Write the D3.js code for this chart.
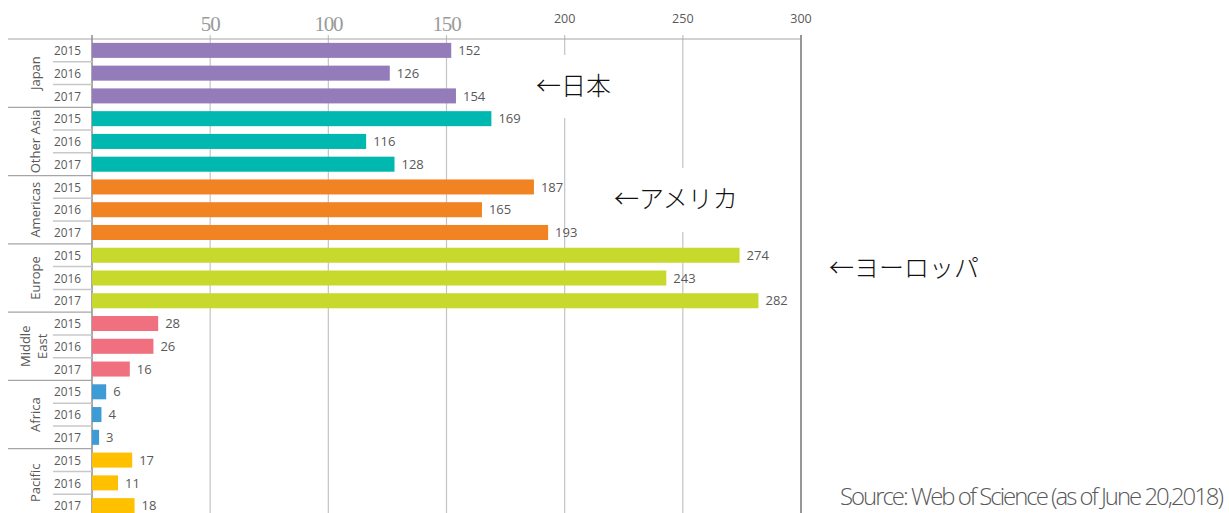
<!DOCTYPE html>
<html>
<head>
<meta charset="utf-8">
<script src="https://cdn.jsdelivr.net/npm/d3@7"></script>
<style>
  body { margin: 0; background: #fff; }
  svg { display: block; }
  .num { font-family: "Liberation Sans Narrow", "Open Sans", sans-serif; font-size: 13px; fill: #595959; }
  .grp { font-family: "Open Sans", sans-serif; font-size: 13px; fill: #595959; }
  .note { font-family: "Noto Sans CJK JP", sans-serif; font-size: 25px; font-weight: 300; fill: #111; }
</style>
</head>
<body>
<svg id="chart" width="1229" height="513"></svg>
<script>
var regions = ['Japan', 'Other Asia', 'Americas', 'Europe', 'Middle East', 'Africa', 'Pacific'];
var years = ['2015', '2016', '2017'];
var japan = [152, 126, 154];
var otherAsia = [169, 116, 128];
var americas = [187, 165, 193];
var europe = [274, 243, 282];
var middleEast = [28, 26, 16];
var africa = [6, 4, 3];
var pacific = [17, 11, 18];
var colors = ['#937cb9', '#00b8b0', '#f28322', '#c8d92e', '#f07080', '#3d9bd6', '#ffc000'];
var tickValues = [50, 100, 150, 200, 250, 300];

var seriesValues = [japan, otherAsia, americas, europe, middleEast, africa, pacific];

var rows = [];
regions.forEach(function (r, i) {
  years.forEach(function (yr, j) {
    rows.push({ region: r, ri: i, year: yr, key: r + '-' + yr, value: seriesValues[i][j] });
  });
});

var svg = d3.select('#chart');
var plotTop = 39, plotBottom = 517, plotLeft = 92, plotRight = 801;

var x = d3.scaleLinear().domain([0, 300]).range([plotLeft, plotRight]);
var y = d3.scaleBand().domain(rows.map(function (d) { return d.key; }))
  .range([plotTop, plotBottom]).paddingInner(0.34).paddingOuter(0.17);
var step = y.step();

// gridlines (behind bars)
svg.append('g').selectAll('line')
  .data(tickValues.filter(function (v) { return v < 300; }))
  .enter().append('line')
  .attr('x1', x).attr('x2', x)
  .attr('y1', plotTop - 4).attr('y2', plotBottom)
  .attr('stroke', '#c4c4c4').attr('stroke-width', 1.2);

// white boxes behind the notes
svg.append('rect').attr('x', 528).attr('y', 55).attr('width', 96).attr('height', 63).attr('fill', '#fff');
svg.append('rect').attr('x', 600).attr('y', 168).attr('width', 160).attr('height', 64).attr('fill', '#fff');

// top axis line and frame
svg.append('line').attr('x1', 8).attr('x2', plotRight).attr('y1', plotTop).attr('y2', plotTop)
  .attr('stroke', '#a6a6a6').attr('stroke-width', 1.2);
svg.append('line').attr('x1', plotLeft).attr('x2', plotLeft).attr('y1', plotTop - 4).attr('y2', plotBottom)
  .attr('stroke', '#8c8c8c').attr('stroke-width', 1.5);
svg.append('line').attr('x1', plotRight).attr('x2', plotRight).attr('y1', plotTop - 4).attr('y2', plotBottom)
  .attr('stroke', '#8c8c8c').attr('stroke-width', 1.8);

// tick labels: first three in serif, the rest in sans
var tl = svg.append('g').selectAll('text').data(tickValues).enter().append('text')
  .attr('x', x)
  .attr('text-anchor', 'middle')
  .text(function (d) { return d; });
tl.filter(function (d) { return d <= 150; })
  .attr('y', 31)
  .style('font-family', '"Liberation Serif", serif')
  .style('font-size', '21px')
  .style('letter-spacing', '-1.2px')
  .style('fill', '#9a9a9a');
tl.filter(function (d) { return d > 150; })
  .attr('y', 23)
  .style('font-family', '"Liberation Sans Narrow", "Open Sans", sans-serif')
  .style('font-size', '12.5px')
  .style('fill', '#595959');

// bars
svg.append('g').selectAll('rect').data(rows).enter().append('rect')
  .attr('x', x(0))
  .attr('y', function (d) { return y(d.key); })
  .attr('width', function (d) { return x(d.value) - x(0); })
  .attr('height', y.bandwidth())
  .attr('fill', function (d) { return colors[d.ri]; });

// value labels
svg.append('g').selectAll('text').data(rows).enter().append('text')
  .attr('class', 'num')
  .attr('x', function (d) { return x(d.value) + 7; })
  .attr('y', function (d) { return y(d.key) + y.bandwidth() / 2; })
  .attr('dy', '0.36em')
  .text(function (d) { return d.value; });

// year labels
svg.append('g').selectAll('text').data(rows).enter().append('text')
  .attr('class', 'num')
  .attr('x', 54)
  .attr('y', function (d) { return y(d.key) + y.bandwidth() / 2; })
  .attr('dy', '0.36em')
  .attr('textLength', 27).attr('lengthAdjust', 'spacingAndGlyphs')
  .text(function (d) { return d.year; });

// separators on the left
svg.append('g').selectAll('line')
  .data(d3.range(1, regions.length))
  .enter().append('line')
  .attr('x1', 8).attr('x2', plotLeft)
  .attr('y1', function (i) { return plotTop + i * 3 * step; })
  .attr('y2', function (i) { return plotTop + i * 3 * step; })
  .attr('stroke', '#a6a6a6').attr('stroke-width', 1.2);
svg.append('g').selectAll('line')
  .data(rows.filter(function (d) { return d.year !== '2015'; }))
  .enter().append('line')
  .attr('x1', 53).attr('x2', plotLeft)
  .attr('y1', function (d) { return plotTop + rows.indexOf(d) * step; })
  .attr('y2', function (d) { return plotTop + rows.indexOf(d) * step; })
  .attr('stroke', '#c8c8c8').attr('stroke-width', 1.5);

// region labels, rotated
regions.forEach(function (r, i) {
  var cy = plotTop + (i * 3 + 1.5) * step;
  var lines = r === 'Middle East' ? ['Middle', 'East'] : [r];
  var t = svg.append('text').attr('class', 'grp')
    .attr('transform', 'translate(35,' + cy + ') rotate(-90)')
    .attr('text-anchor', 'middle');
  lines.forEach(function (s, k) {
    t.append('tspan').attr('x', 0)
      .attr('dy', lines.length === 1 ? '0.35em' : (k === 0 ? '-0.4em' : '1.3em'))
      .text(s);
  });
});

// notes
var notes = [['←日本', 536, 86], ['←アメリカ', 614, 199], ['←ヨーロッパ', 829, 268]];
svg.append('g').selectAll('text').data(notes).enter().append('text')
  .attr('class', 'note')
  .attr('x', function (d) { return d[1]; })
  .attr('y', function (d) { return d[2]; })
  .attr('dy', '0.36em')
  .text(function (d) { return d[0]; });

// source
svg.append('text')
  .attr('x', 1222).attr('y', 505)
  .attr('text-anchor', 'end')
  .attr('textLength', 382).attr('lengthAdjust', 'spacingAndGlyphs')
  .style('font-family', '"Liberation Sans Narrow", "Open Sans", sans-serif')
  .style('font-size', '24px')
  .style('font-weight', '300')
  .style('letter-spacing', '-2px')
  .style('fill', '#595959')
  .text('Source: Web of Science (as of June 20,2018)');
</script>
</body>
</html>
